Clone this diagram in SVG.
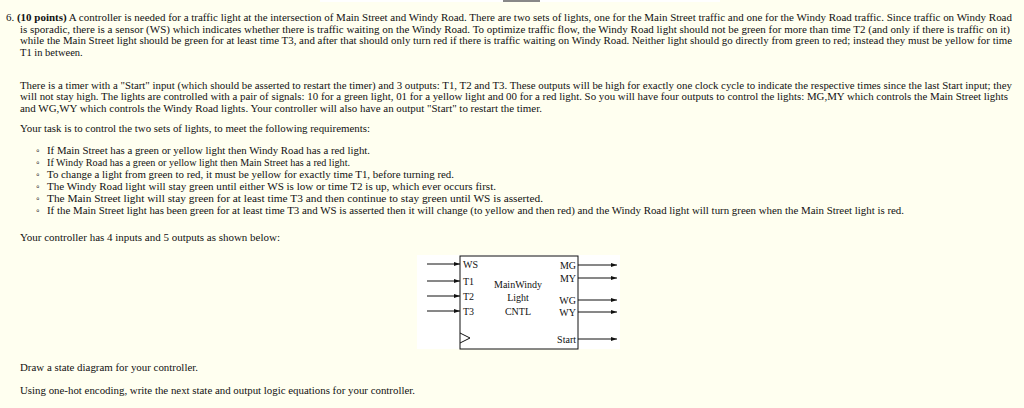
<svg xmlns="http://www.w3.org/2000/svg" width="1024" height="408" viewBox="0 0 1024 408">
<defs>
<style>
text{font-family:"Liberation Serif","Times New Roman",serif;font-size:10.5px;fill:#111}
.b{font-size:10px}
.w{stroke:#111;stroke-width:1;fill:none}
</style>
<marker id="ah" viewBox="0 0 6 4" refX="6" refY="2" markerWidth="6" markerHeight="4" orient="auto" markerUnits="userSpaceOnUse"><path d="M0,0L6,2L0,4z" fill="#111"/></marker>
</defs>
<rect width="1024" height="408" fill="#FFFFF0"/>
<rect x="320" y="0" width="400" height="2" fill="#fff"/>
<rect x="503" y="0" width="37" height="2" fill="#888"/>
<text x="6" y="21" textLength="1006" lengthAdjust="spacingAndGlyphs">6. <tspan font-weight="bold">(10 points)</tspan> A controller is needed for a traffic light at the intersection of Main Street and Windy Road. There are two sets of lights, one for the Main Street traffic and one for the Windy Road traffic. Since traffic on Windy Road</text>
<text x="20" y="33" textLength="990" lengthAdjust="spacingAndGlyphs">is sporadic, there is a sensor (WS) which indicates whether there is traffic waiting on the Windy Road. To optimize traffic flow, the Windy Road light should not be green for more than time T2 (and only if there is traffic on it)</text>
<text x="20" y="44" textLength="992" lengthAdjust="spacingAndGlyphs">while the Main Street light should be green for at least time T3, and after that should only turn red if there is traffic waiting on Windy Road. Neither light should go directly from green to red; instead they must be yellow for time</text>
<text x="20" y="56">T1 in between.</text>
<text x="20" y="89" textLength="992" lengthAdjust="spacingAndGlyphs">There is a timer with a "Start" input (which should be asserted to restart the timer) and 3 outputs: T1, T2 and T3. These outputs will be high for exactly one clock cycle to indicate the respective times since the last Start input; they</text>
<text x="20" y="100" textLength="988" lengthAdjust="spacingAndGlyphs">will not stay high. The lights are controlled with a pair of signals: 10 for a green light, 01 for a yellow light and 00 for a red light. So you will have four outputs to control the lights: MG,MY which controls the Main Street lights</text>
<text x="20" y="112" textLength="522" lengthAdjust="spacingAndGlyphs">and WG,WY which controls the Windy Road lights. Your controller will also have an output "Start" to restart the timer.</text>
<text x="20" y="132" textLength="350" lengthAdjust="spacingAndGlyphs">Your task is to control the two sets of lights, to meet the following requirements:</text>
<g>
<text x="36" y="154">◦</text><text x="47" y="154" textLength="323" lengthAdjust="spacingAndGlyphs">If Main Street has a green or yellow light then Windy Road has a red light.</text>
<text x="36" y="166">◦</text><text x="47" y="166" textLength="303" lengthAdjust="spacingAndGlyphs">If Windy Road has a green or yellow light then Main Street has a red light.</text>
<text x="36" y="178">◦</text><text x="47" y="178" textLength="407" lengthAdjust="spacingAndGlyphs">To change a light from green to red, it must be yellow for exactly time T1, before turning red.</text>
<text x="36" y="190">◦</text><text x="47" y="190" textLength="449" lengthAdjust="spacingAndGlyphs">The Windy Road light will stay green until either WS is low or time T2 is up, which ever occurs first.</text>
<text x="36" y="202">◦</text><text x="47" y="202" textLength="496" lengthAdjust="spacingAndGlyphs">The Main Street light will stay green for at least time T3 and then continue to stay green until WS is asserted.</text>
<text x="36" y="214">◦</text><text x="47" y="214" textLength="857" lengthAdjust="spacingAndGlyphs">If the Main Street light has been green for at least time T3 and WS is asserted then it will change (to yellow and then red) and the Windy Road light will turn green when the Main Street light is red.</text>
</g>
<text x="20" y="241" textLength="260" lengthAdjust="spacingAndGlyphs">Your controller has 4 inputs and 5 outputs as shown below:</text>
<rect x="417" y="255" width="203" height="94" fill="#fff"/>
<g id="cntl">
<rect x="460" y="256" width="118" height="93" fill="#fff" stroke="#111"/>
<path class="w" d="M460,333L470,338L460,343"/>
<text class="b" x="463" y="268">WS</text>
<text class="b" x="463" y="285">T1</text>
<text class="b" x="463" y="300">T2</text>
<text class="b" x="463" y="315">T3</text>
<text class="b" x="518" y="288" text-anchor="middle">MainWindy</text>
<text class="b" x="518" y="301" text-anchor="middle">Light</text>
<text class="b" x="518" y="315" text-anchor="middle">CNTL</text>
<text class="b" x="576" y="269" text-anchor="end">MG</text>
<text class="b" x="576" y="282" text-anchor="end">MY</text>
<text class="b" x="576" y="304" text-anchor="end">WG</text>
<text class="b" x="576" y="316" text-anchor="end">WY</text>
<text class="b" x="576" y="343" text-anchor="end" font-size="9">Start</text>
</g>
<g id="connectors" class="w" marker-end="url(#ah)">
<path d="M427,264H460"/><path d="M427,281H460"/><path d="M427,296H460"/><path d="M427,311H460"/>
<path d="M578,265H617"/><path d="M578,278H617"/><path d="M578,300H617"/><path d="M578,312H617"/><path d="M578,339H617"/>
</g>
<text x="20" y="371" textLength="178" lengthAdjust="spacingAndGlyphs">Draw a state diagram for your controller.</text>
<text x="20" y="394" textLength="395" lengthAdjust="spacingAndGlyphs">Using one-hot encoding, write the next state and output logic equations for your controller.</text>
</svg>
